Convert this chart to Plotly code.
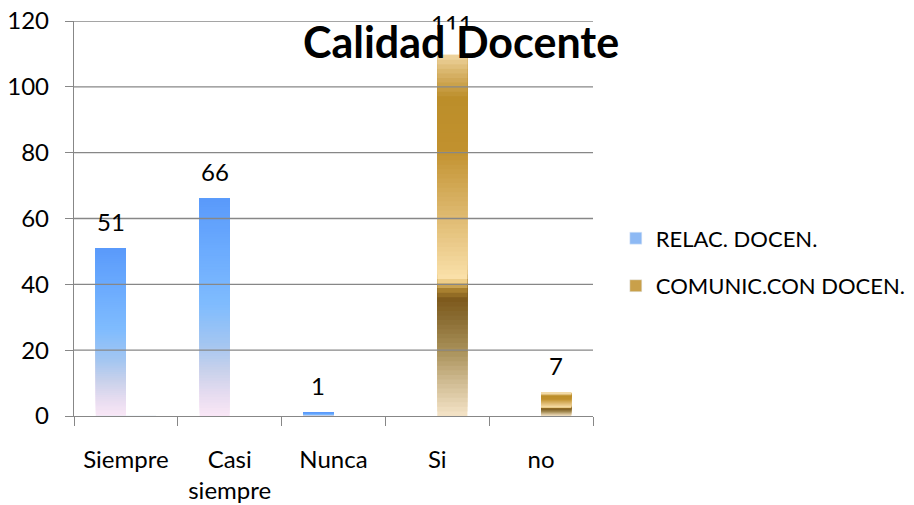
import plotly.graph_objects as go

categories = ["Siempre", "Casi<br>siempre", "Nunca", "Si", "no"]
relac_docen = [51, 66, 1, None, None]
comunic_docen = [None, None, None, 111, 7]
series_names = ["RELAC. DOCEN.", "COMUNIC.CON DOCEN."]
y_ticks = [0, 20, 40, 60, 80, 100, 120]

FONT = "Lato, 'Open Sans', sans-serif"
GRID = "#878787"

# gradient stops, fraction of bar height measured from the bottom
blue_stops = [(0.0, "#FAE7F6"), (0.1, "#E6DCF0"), (0.21, "#C8D1EB"),
              (0.33, "#A4C6F1"), (0.51, "#80BCFE"), (0.75, "#6CACFE"),
              (1.0, "#5A9AFB")]
gold_stops = [(0.0, "#F4E4C8"), (0.1, "#CDB88E"), (0.18, "#A89058"),
              (0.265, "#8A6C32"), (0.32, "#7E5A1C"), (0.35, "#B38A35"),
              (0.365, "#E8C77E"), (0.38, "#FAE0A9"), (0.46, "#ECCD8E"),
              (0.6, "#D6AE5E"), (0.73, "#C1912E"), (0.87, "#BC8E2A"),
              (0.94, "#D8B46A"), (1.0, "#F5DEAE")]


def grad(stops, t):
    for (t0, c0), (t1, c1) in zip(stops[:-1], stops[1:]):
        if t <= t1:
            f = 0 if t1 == t0 else (t - t0) / (t1 - t0)
            a = [int(c0[i:i + 2], 16) for i in (1, 3, 5)]
            b = [int(c1[i:i + 2], 16) for i in (1, 3, 5)]
            return "rgb(%d,%d,%d)" % tuple(round(x + (y - x) * f) for x, y in zip(a, b))
    return stops[-1][1]


N = 80
W = 0.29
fig = go.Figure()

for name, vals, stops, off, swatch in [
    (series_names[0], relac_docen, blue_stops, -W, "#8DB9F4"),
    (series_names[1], comunic_docen, gold_stops, 0.0, "#C9A04A"),
]:
    xs, ys, bases, cols = [], [], [], []
    for cat, v in zip(categories, vals):
        if v is None:
            continue
        for k in range(N):
            b = v * k / N
            xs.append(cat)
            bases.append(b)
            ys.append(v - b)
            cols.append(grad(stops, (k + 0.5) / N))
    fig.add_trace(go.Bar(x=xs, y=ys, base=bases, width=W, offset=off,
                         marker=dict(color=cols, line=dict(width=0)),
                         showlegend=False, legendgroup=name, hoverinfo="skip"))
    # legend entry
    fig.add_trace(go.Bar(x=[categories[0]], y=[0], width=W, offset=off,
                         marker_color=swatch, name=name, legendgroup=name))
    # value labels
    for i, v in enumerate(vals):
        if v is None:
            continue
        fig.add_annotation(x=i + off + W / 2, y=v, text=str(v), showarrow=False,
                           yanchor="middle", yshift=27,
                           font=dict(family=FONT, size=24, color="#000"))

# gridlines drawn above the bars, as in the original
for t in y_ticks[1:]:
    fig.add_shape(type="line", xref="paper", x0=0, x1=1, yref="y", y0=t, y1=t,
                  line=dict(color=GRID, width=1.4), layer="above")

# white title box (hides most of the "111" label), then the title text
fig.add_annotation(text=".", xref="paper", yref="paper", x=0.746, y=0.947,
                   xanchor="center", yanchor="middle", showarrow=False,
                   bgcolor="white", borderpad=0, width=322, height=24,
                   font=dict(family=FONT, size=10, color="white"))
fig.add_annotation(text="<b>Calidad Docente</b>", xref="paper", yref="paper",
                   x=0.746, y=0.947, xanchor="center", yanchor="middle",
                   showarrow=False, font=dict(family=FONT, size=43, color="#000"))

# page body adds an 8px offset, margins account for it
fig.update_layout(
    width=914, height=505,
    margin=dict(l=66, r=329, t=13, b=97),
    barmode="overlay",
    paper_bgcolor="white", plot_bgcolor="white",
    font=dict(family=FONT, size=24, color="#000"),
    showlegend=True,
    legend=dict(xref="container", x=0.665, y=0.389, xanchor="left",
                yanchor="middle", font=dict(size=22), traceorder="grouped",
                tracegroupgap=16, itemwidth=30),
    xaxis=dict(type="category", categoryarray=categories, range=[-0.5, 4.5],
               showgrid=False, showline=True, linecolor=GRID, linewidth=1.4,
               ticks="outside", tickson="boundaries", ticklen=9, tickcolor=GRID,
               tickwidth=1.4, ticklabelstandoff=22, layer="above traces",
               automargin=False),
    yaxis=dict(range=[0, 120], tickvals=y_ticks, showgrid=False,
               showline=True, linecolor=GRID, linewidth=1.4, ticks="outside",
               ticklen=8, tickcolor=GRID, tickwidth=1.4, ticklabelstandoff=11,
               ticklabeloverflow="allow", zeroline=False,
               layer="above traces", automargin=False),
)

fig.write_html("out.html")
